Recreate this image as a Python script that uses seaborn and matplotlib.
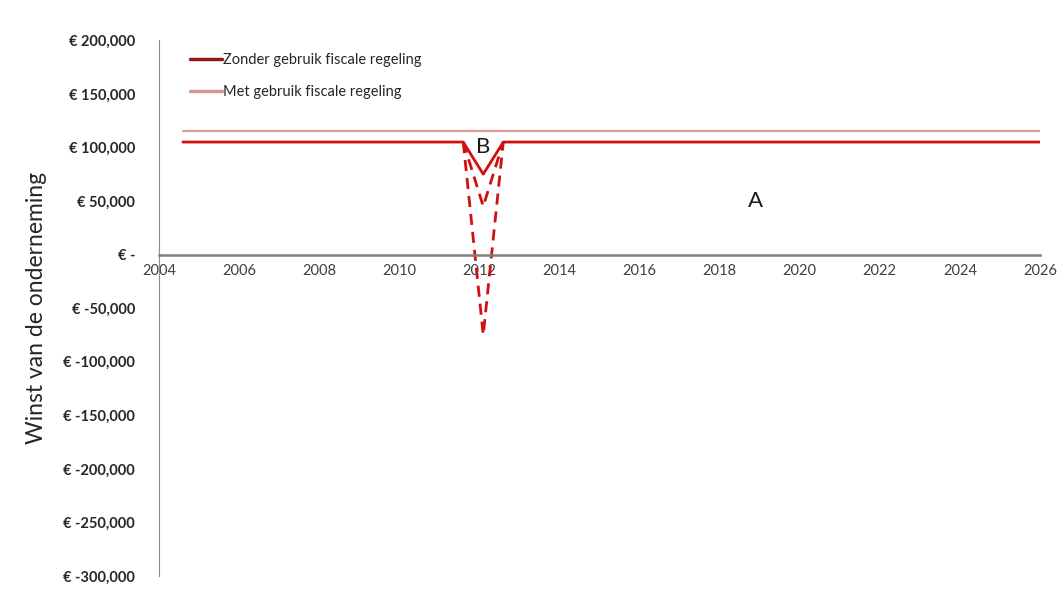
import seaborn as sns
import matplotlib.pyplot as plt
from matplotlib.lines import Line2D
from matplotlib.ticker import FuncFormatter

# winst zonder / met gebruik fiscale regeling
jaren_zonder = [2004.6, 2011.6, 2012.1, 2012.6, 2026.0]
winst_zonder = [105000, 105000, 75000, 105000, 105000]

jaren_met = [2004.6, 2026.0]
winst_met = [115000, 115000]

# gestippelde scenario's rond 2012
jaren_dip = [2011.6, 2012.1, 2012.6]
winst_dip_midden = [105000, 45000, 105000]
winst_dip_diep = [105000, -75000, 105000]

x_ticks = list(range(2004, 2027, 2))
y_ticks = list(range(-300000, 200001, 50000))

sns.set_style("white")
plt.rcParams['font.family'] = ['Lato', 'DejaVu Sans']

fig = plt.figure(figsize=(10.59, 5.92), dpi=100)
ax = fig.add_axes([0.150, 0.027, 0.832, 0.905])

rood = "#d01010"
sns.lineplot(x=jaren_met, y=winst_met, color="#e59a9a", linewidth=1.6, ax=ax, sort=False)
sns.lineplot(x=jaren_zonder, y=winst_zonder, color=rood, linewidth=2, ax=ax, sort=False)
for w in [winst_dip_midden, winst_dip_diep]:
    sns.lineplot(x=jaren_dip, y=w, color=rood, linewidth=2, ax=ax, sort=False,
                 linestyle=(0, (4, 2.5)))

ax.set_xlim(2004, 2026)
ax.set_ylim(-300000, 200000)
ax.set_xticks(x_ticks)
ax.set_yticks(y_ticks)

def euro(v, pos):
    if v == 0:
        return "€ -"
    return "€ {:,.0f}".format(v)

ax.yaxis.set_major_formatter(FuncFormatter(euro))

ax.spines['top'].set_visible(False)
ax.spines['right'].set_visible(False)
ax.spines['bottom'].set_position(('data', 0))
ax.spines['bottom'].set_color("#7f7f7f")
ax.spines['bottom'].set_linewidth(1.8)
ax.spines['left'].set_color("#8c8c8c")
ax.tick_params(axis='x', direction='inout', length=7, color="#7f7f7f",
               labelsize=10.5, labelcolor="#404040", pad=3)
ax.tick_params(axis='y', direction='out', length=5, color="#8c8c8c",
               labelsize=10.5, labelcolor="#262626", pad=12)
for lab in ax.get_yticklabels():
    lab.set_fontweight("bold")

ax.set_ylabel("Winst van de onderneming", fontsize=16.5, color="#262626", labelpad=12)

ax.text(2012.1, 100000, "B", fontsize=16, ha="center", va="center", color="#1a1a1a")
ax.text(2018.9, 50000, "A", fontsize=16, ha="center", va="center", color="#1a1a1a")

handles = [Line2D([], [], color="#8b1c1c", linewidth=2.5),
           Line2D([], [], color="#d99594", linewidth=2.5)]
ax.legend(handles, ["Zonder gebruik fiscale regeling", "Met gebruik fiscale regeling"],
          loc="upper left", bbox_to_anchor=(0.02, 1.0), frameon=False,
          fontsize=10.5, handlelength=2.2, handletextpad=0.1, labelspacing=1.2)

fig.savefig("out.png", dpi=100)
